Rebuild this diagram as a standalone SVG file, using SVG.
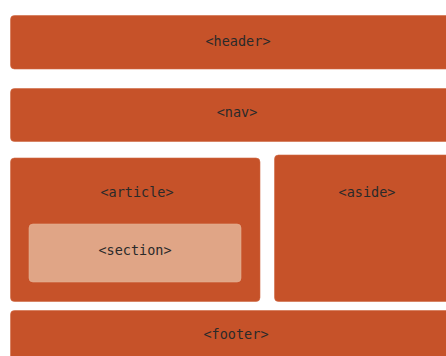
<svg xmlns="http://www.w3.org/2000/svg" width="446" height="356" viewBox="0 0 446 356">
<style>
.box{fill:#C65229;stroke:#D06A45;stroke-width:0.6}
.inner{fill:#E0A586;stroke:#E4AF92;stroke-width:0.6}
text{font-family:"DejaVu Sans Mono","Liberation Mono",monospace;font-size:13.5px;fill:#2a2a2a;text-anchor:middle}
</style>
<rect width="446" height="356" fill="#ffffff"/>
<g id="header"><rect class="box" x="10.5" y="15.5" width="450" height="53.5" rx="4"/><text x="238" y="46">&lt;header&gt;</text></g>
<g id="nav"><rect class="box" x="10.5" y="88.5" width="450" height="53" rx="4"/><text x="237" y="117">&lt;nav&gt;</text></g>
<g id="article"><rect class="box" x="10.5" y="158" width="249.5" height="143.5" rx="4"/><text x="137" y="197">&lt;article&gt;</text></g>
<g id="section"><rect class="inner" x="29" y="224" width="212" height="58" rx="4"/><text x="135" y="255">&lt;section&gt;</text></g>
<g id="aside"><rect class="box" x="274.5" y="155" width="190" height="146.5" rx="4"/><text x="367" y="197">&lt;aside&gt;</text></g>
<g id="footer"><rect class="box" x="10.5" y="310.5" width="450" height="60" rx="4"/><text x="236" y="339">&lt;footer&gt;</text></g>
<g id="connectors"></g>
</svg>
